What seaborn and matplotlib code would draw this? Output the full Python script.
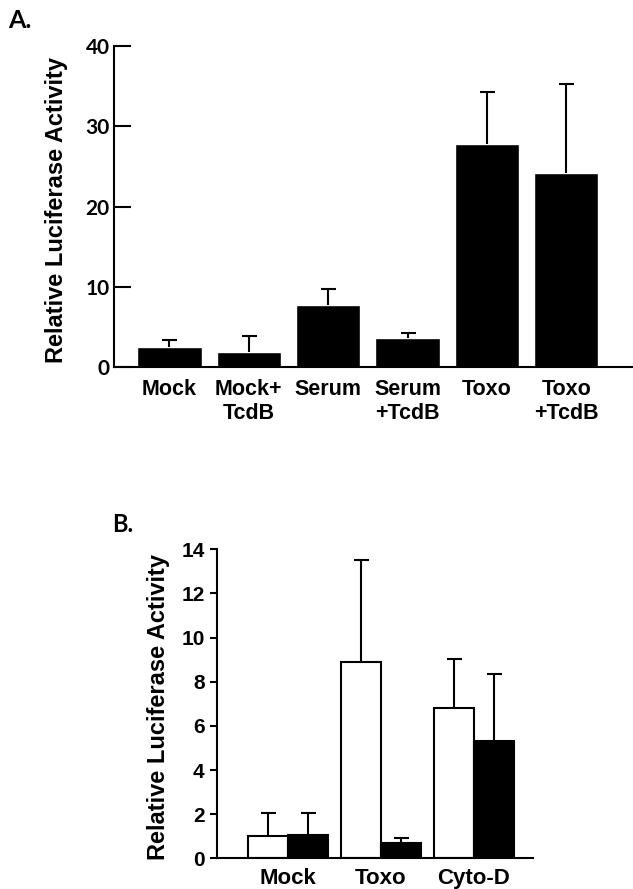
import numpy as np
import matplotlib
matplotlib.use("Agg")
import matplotlib.pyplot as plt
import seaborn as sns
import pandas as pd

sns.set_style("ticks")
plt.rcParams["font.family"] = ["Liberation Sans", "DejaVu Sans"]
plt.rcParams["font.weight"] = "bold"
plt.rcParams.update({
    "text.color": "black",
    "axes.labelcolor": "black",
    "axes.edgecolor": "black",
    "xtick.color": "black",
    "ytick.color": "black",
})

# panel A data
a_labels = ["Mock", "Mock+\nTcdB", "Serum", "Serum\n+TcdB", "Toxo", "Toxo\n+TcdB"]
a_means = [2.5, 1.95, 7.7, 3.7, 27.8, 24.2]
a_err = [0.9, 2.0, 2.0, 0.55, 6.5, 11.1]

# panel B data
b_groups = ["Mock", "Toxo", "Cyto-D"]
b_hue = ["Control", "Treated"]
b_control = [1.02, 8.88, 6.8]
b_control_err = [1.05, 4.64, 2.23]
b_treated = [1.06, 0.71, 5.31]
b_treated_err = [0.98, 0.22, 3.03]

LW = 1.5


def upper_errorbar(ax, x, y, err):
    # one-sided error bar: hide the lower cap
    _, caps, _ = ax.errorbar(x, y, yerr=[np.zeros(len(err)), err], fmt="none",
                             ecolor="black", elinewidth=LW, capsize=5.4,
                             capthick=LW, zorder=5)
    caps[0].set_visible(False)


fig = plt.figure(figsize=(6.33, 8.89), dpi=100)

# ---------- panel A ----------
axA = fig.add_axes([0.180, 0.5868, 0.820, 0.3617])
dfA = pd.DataFrame({"cond": a_labels, "val": a_means})
sns.barplot(data=dfA, x="cond", y="val", color="black", width=0.81,
            errorbar=None, ax=axA, saturation=1)
xs = [p.get_x() + p.get_width() / 2 for p in axA.patches]
upper_errorbar(axA, xs, a_means, a_err)
axA.set_xlim(-0.70, 5.84)
axA.set_ylim(0, 40)
axA.set_yticks([0, 10, 20, 30, 40])
axA.set_xlabel("")
axA.set_ylabel("Relative Luciferase Activity", fontsize=17, fontweight="bold")
axA.yaxis.set_label_coords(-0.088, 0.49)
axA.tick_params(axis="y", direction="in", length=12, width=LW, pad=3)
axA.tick_params(axis="x", length=0, pad=8.5, labelsize=15.5)
for t in axA.get_yticklabels():
    t.set_fontfamily(["Lato", "DejaVu Sans"])
    t.set_fontweight("bold")
    t.set_fontsize(15)
sns.despine(ax=axA)
for s in ["left", "bottom"]:
    axA.spines[s].set_linewidth(LW)

# ---------- panel B ----------
axB = fig.add_axes([0.3423, 0.0345, 0.5002, 0.3476])
dfB = pd.DataFrame({
    "grp": b_groups * 2,
    "cond": [b_hue[0]] * 3 + [b_hue[1]] * 3,
    "val": b_control + b_treated,
})
sns.barplot(data=dfB, x="grp", y="val", hue="cond", hue_order=b_hue,
            palette=["white", "black"], edgecolor="black", linewidth=LW,
            width=0.86, errorbar=None, ax=axB, saturation=1, legend=False)
for cont, vals, errs in zip(axB.containers, [b_control, b_treated],
                            [b_control_err, b_treated_err]):
    bx = [p.get_x() + p.get_width() / 2 for p in cont.patches]
    upper_errorbar(axB, bx, vals, errs)
axB.set_xlim(-0.77, 2.64)
axB.set_ylim(0, 14)
axB.set_yticks(range(0, 15, 2))
axB.set_xlabel("")
axB.set_ylabel("Relative Luciferase Activity", fontsize=17, fontweight="bold")
axB.yaxis.set_label_coords(-0.1475, 0.49)
axB.tick_params(axis="y", direction="out", length=5, width=LW, pad=3.6, labelsize=15)
axB.tick_params(axis="x", length=0, pad=7, labelsize=16)
sns.despine(ax=axB)
for s in ["left", "bottom"]:
    axB.spines[s].set_linewidth(LW)

# panel letters
fig.text(8 / 633, 1 - 28 / 889, "A.", fontsize=18, fontweight="bold",
         family=["Lato", "DejaVu Sans"], ha="left", va="baseline")
fig.text(112 / 633, 1 - 532 / 889, "B.", fontsize=17, fontweight="bold",
         family=["Lato", "DejaVu Sans"], ha="left", va="baseline")

fig.savefig("out.png", dpi=100)
